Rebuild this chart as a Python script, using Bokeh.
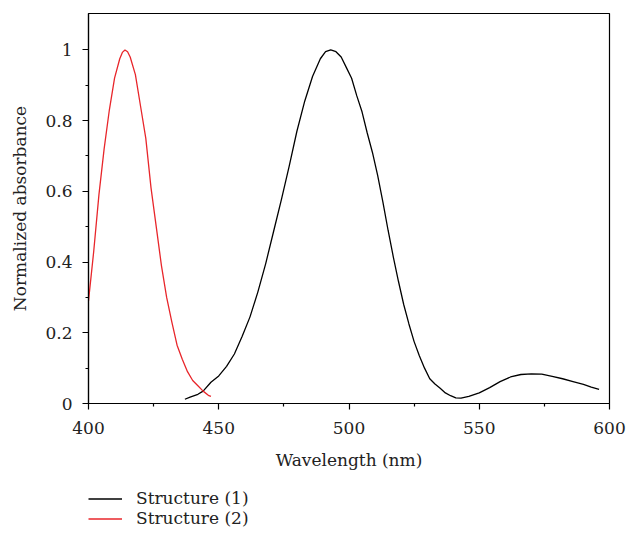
from bokeh.plotting import figure
from bokeh.layouts import column
from bokeh.models import Range1d, FixedTicker, NumeralTickFormatter, Legend, LegendItem
from bokeh.embed import file_html
from bokeh.resources import INLINE

# Structure (1) absorbance
wl1 = [437, 439, 442, 444, 447, 450, 453, 456, 459, 462, 465, 468, 471, 474, 477, 480,
       483, 486, 489, 491, 493, 495, 497, 499, 501, 503, 505, 507, 509, 511, 513, 515,
       517, 519, 521, 523, 525, 527, 529, 531, 533, 535, 537, 539, 541, 543, 546, 550,
       554, 558, 562, 566, 570, 574, 578, 582, 586, 590, 593, 596]
abs1 = [0.012, 0.018, 0.026, 0.035, 0.06, 0.078, 0.105, 0.14, 0.19, 0.245, 0.315, 0.395,
        0.485, 0.575, 0.67, 0.77, 0.855, 0.925, 0.975, 0.995, 1.0, 0.995, 0.98, 0.95,
        0.92, 0.87, 0.825, 0.765, 0.71, 0.645, 0.57, 0.49, 0.415, 0.345, 0.28, 0.225,
        0.175, 0.135, 0.1, 0.07, 0.055, 0.043, 0.03, 0.022, 0.016, 0.015, 0.02, 0.03,
        0.045, 0.062, 0.075, 0.082, 0.084, 0.083, 0.077, 0.07, 0.062, 0.054, 0.046, 0.04]

# Structure (2) absorbance
wl2 = [400, 402, 404, 406, 408, 410, 412, 413, 414, 415, 416, 418, 420, 422, 424, 426,
       428, 430, 432, 434, 436, 438, 440, 442, 444, 446, 447]
abs2 = [0.29, 0.43, 0.59, 0.72, 0.83, 0.92, 0.975, 0.993, 1.0, 0.995, 0.98, 0.93, 0.84,
        0.75, 0.61, 0.5, 0.39, 0.3, 0.23, 0.165, 0.125, 0.09, 0.065, 0.05, 0.035, 0.023, 0.02]

labels = ["Structure (1)", "Structure (2)"]
colors = ["black", "#e8262b"]

x_ticks = [400, 450, 500, 550, 600]
x_minor = [425, 475, 525, 575]
y_ticks = [0, 0.2, 0.4, 0.6, 0.8, 1.0]
y_minor = [0.1, 0.3, 0.5, 0.7, 0.9]

FONT = "DejaVu Serif"
FS = "17px"
TXT = "#222222"

p = figure(width=626, height=480, output_backend="svg", toolbar_location=None,
           x_range=Range1d(400, 600), y_range=Range1d(0, 1.103),
           min_border_left=88, min_border_right=17, min_border_top=13, min_border_bottom=77)

p.grid.visible = False
p.outline_line_color = "black"
p.outline_line_width = 1.2
p.background_fill_color = "white"
p.border_fill_color = "white"

p.xaxis.ticker = FixedTicker(ticks=x_ticks, minor_ticks=x_minor)
p.yaxis.ticker = FixedTicker(ticks=y_ticks, minor_ticks=y_minor)
p.yaxis.formatter = NumeralTickFormatter(format="0.[0]")

for ax in (p.xaxis[0], p.yaxis[0]):
    ax.axis_line_color = "black"
    ax.axis_line_width = 1.2
    ax.major_tick_line_color = "black"
    ax.minor_tick_line_color = "black"
    ax.major_tick_line_width = 1.2
    ax.minor_tick_line_width = 1.2
    ax.major_tick_out = 6
    ax.major_tick_in = 0
    ax.minor_tick_out = 3
    ax.minor_tick_in = 0
    ax.major_label_text_font = FONT
    ax.major_label_text_font_size = FS
    ax.major_label_text_color = TXT
    ax.axis_label_text_font = FONT
    ax.axis_label_text_font_size = FS
    ax.axis_label_text_font_style = "normal"
    ax.axis_label_text_color = TXT

p.xaxis.axis_label = "Wavelength (nm)"
p.yaxis.axis_label = "Normalized absorbance"
p.xaxis.major_label_standoff = 12
p.xaxis.axis_label_standoff = 13
p.yaxis.major_label_standoff = 10
p.yaxis.axis_label_standoff = 12

p.line(wl1, abs1, line_color=colors[0], line_width=1.3)
p.line(wl2, abs2, line_color=colors[1], line_width=1.3)

# Legend panel below the chart (same series, lines hidden; only the legend shows)
lg = figure(width=626, height=56, output_backend="svg", toolbar_location=None,
            x_range=Range1d(400, 600), y_range=Range1d(0, 1.103),
            min_border_left=88, min_border_right=17, min_border_top=8, min_border_bottom=0)
lg.axis.visible = False
lg.grid.visible = False
lg.outline_line_color = None
lg.border_fill_color = "white"
h1 = lg.line(wl1, abs1, line_color=colors[0], line_width=1.3, visible=False)
h2 = lg.line(wl2, abs2, line_color=colors[1], line_width=1.3, visible=False)

legend = Legend(items=[LegendItem(label=labels[0], renderers=[h1]),
                       LegendItem(label=labels[1], renderers=[h2])],
                location="top_left", orientation="vertical", click_policy="none",
                glyph_width=34, glyph_height=19, label_height=19, label_standoff=14,
                spacing=0, padding=0, margin=0,
                border_line_color=None, background_fill_alpha=0,
                label_text_font=FONT, label_text_font_size=FS, label_text_color=TXT)
lg.add_layout(legend, "center")

layout = column(p, lg, spacing=0)
open("out.html", "w").write(file_html(layout, INLINE))
